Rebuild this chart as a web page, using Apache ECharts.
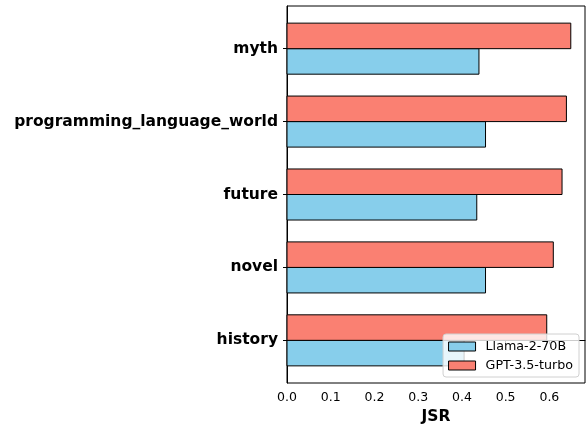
<!DOCTYPE html>
<html>
<head>
<meta charset="utf-8">
<script src="https://cdn.jsdelivr.net/npm/echarts@6/dist/echarts.min.js"></script>
<style>html,body{margin:0;padding:0;background:#fff;}#c{width:588px;height:430px;}</style>
</head>
<body>
<div id="c"></div>
<script>
const categories = ['history', 'novel', 'future', 'programming_language_world', 'myth'];
const seriesNames = ['Llama-2-70B', 'GPT-3.5-turbo'];
const llamaValues = [0.405, 0.454, 0.434, 0.454, 0.439];
const gptValues = [0.594, 0.609, 0.629, 0.639, 0.649];
const xTicks = [0, 0.1, 0.2, 0.3, 0.4, 0.5, 0.6];
const yTicks = [0, 1, 2, 3, 4];

const FONT = 'DejaVu Sans';
const BAR_H = 0.35;

function makeRender(offset) {
  return function (params, api) {
    const val = api.value(0);
    const idx = api.value(1);
    const pTop = api.coord([0, idx + offset + BAR_H / 2]);
    const pBot = api.coord([val, idx + offset - BAR_H / 2]);
    const st = api.style();
    return {
      type: 'rect',
      shape: { x: pTop[0], y: pTop[1], width: pBot[0] - pTop[0], height: pBot[1] - pTop[1] },
      style: { fill: st.fill, stroke: '#000', lineWidth: 1 }
    };
  };
}

const chart = echarts.init(document.getElementById('c'), null, { renderer: 'canvas' });
chart.setOption({
  animation: false,
  backgroundColor: '#fff',
  textStyle: { fontFamily: FONT },
  grid: { left: 287, right: 3, top: 6, bottom: 47, show: true, borderColor: '#000', borderWidth: 1 },
  legend: {
    orient: 'vertical',
    right: 9, bottom: 53,
    padding: [5, 6, 4, 5],
    itemGap: 4,
    itemWidth: 27, itemHeight: 9,
    backgroundColor: 'rgba(255,255,255,0.8)',
    borderColor: '#d0d0d0', borderWidth: 1, borderRadius: 3,
    textStyle: { fontFamily: FONT, fontSize: 12.7, color: '#000', padding: [0, 0, 0, 5], lineHeight: 15 },
    data: [
      { name: seriesNames[0], icon: 'rect', itemStyle: { color: '#87CEEB', borderColor: '#000', borderWidth: 1 } },
      { name: seriesNames[1], icon: 'rect', itemStyle: { color: '#FA8072', borderColor: '#000', borderWidth: 1 } }
    ]
  },
  xAxis: {
    type: 'value', min: 0, max: 0.6815,
    name: 'JSR', nameLocation: 'middle', nameGap: 26,
    nameTextStyle: { fontFamily: FONT, fontSize: 15.5, fontWeight: 'bold', color: '#000' },
    axisLine: { show: true, lineStyle: { color: '#000', width: 1 } },
    axisTick: { show: true, length: 4, customValues: xTicks, lineStyle: { color: '#000' } },
    axisLabel: { customValues: xTicks, margin: 8, fontSize: 12.5, fontFamily: FONT, color: '#000', formatter: v => v.toFixed(1) },
    splitLine: { show: false }
  },
  yAxis: {
    type: 'value', min: -0.585, max: 4.585,
    axisLine: { show: true, lineStyle: { color: '#000', width: 1 } },
    axisTick: { show: true, length: 4, customValues: yTicks, lineStyle: { color: '#000' } },
    axisLabel: { customValues: yTicks, margin: 9, fontSize: 15.5, fontWeight: 'bold', fontFamily: FONT, color: '#000', formatter: v => categories[Math.round(v)] },
    splitLine: { show: false }
  },
  series: [
    { name: seriesNames[0], type: 'custom', itemStyle: { color: '#87CEEB' }, renderItem: makeRender(-BAR_H / 2), encode: { x: 0, y: 1 }, data: llamaValues.map((v, i) => [v, i]) },
    { name: seriesNames[1], type: 'custom', itemStyle: { color: '#FA8072' }, renderItem: makeRender(BAR_H / 2), encode: { x: 0, y: 1 }, data: gptValues.map((v, i) => [v, i]) }
  ]
});
</script>
</body>
</html>
